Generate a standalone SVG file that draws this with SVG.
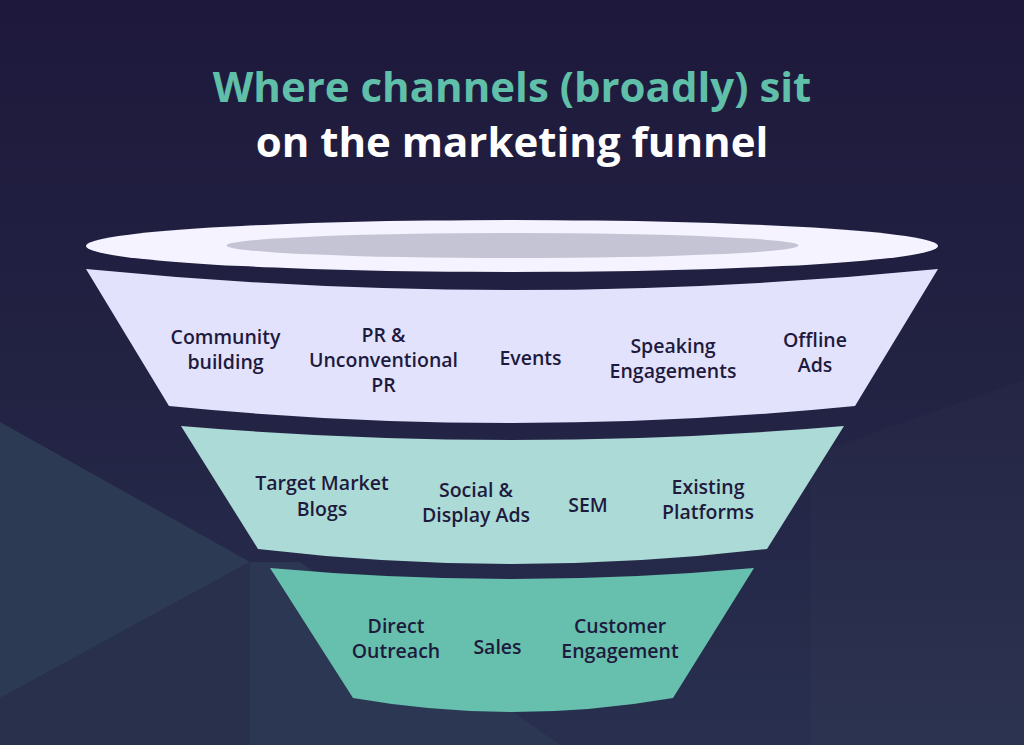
<svg xmlns="http://www.w3.org/2000/svg" width="1024" height="745" viewBox="0 0 1024 745">
  <defs>
    <linearGradient id="bg" x1="0" y1="0" x2="0" y2="1">
      <stop offset="0" stop-color="#1e193c"/>
      <stop offset="0.5" stop-color="#222243"/>
      <stop offset="1" stop-color="#29304f"/>
    </linearGradient>
    <style>
      .title { font-family: "Open Sans", "Noto Sans", sans-serif; font-weight: 700; font-size: 42px; text-anchor: middle; }
      .lbl { font-family: "Open Sans", "Noto Sans", sans-serif; font-weight: 600; font-size: 19.5px; fill: #1e1a3d; text-anchor: middle; }
    </style>
  </defs>

  <g id="background">
    <rect x="0" y="0" width="1024" height="745" fill="url(#bg)"/>
    <polygon points="0,422 250,562 0,698" fill="#2d3a54"/>
    <polygon points="0,698 250,562 250,745 0,745" fill="#28304c"/>
    <polygon points="250,562 300,562 560,745 250,745" fill="#2c3853"/>
    <polygon points="810,455 1024,380 1024,745 810,745" fill="#ffffff" opacity="0.015"/>
  </g>

  <g id="title">
    <text class="title" x="512" y="102" fill="#5fbfa8">Where channels (broadly) sit</text>
    <text class="title" x="512" y="157" fill="#ffffff">on the marketing funnel</text>
  </g>

  <g id="funnel-rim">
    <ellipse cx="512" cy="246" rx="426" ry="26" fill="#f4f3ff"/>
    <ellipse cx="512.5" cy="245.5" rx="286" ry="12.5" fill="#c5c4d4"/>
  </g>

  <g id="band-awareness">
    <path d="M86,269 Q512,311 938,269 L855,406 Q512,440 169,406 Z" fill="#e3e2fd"/>
    <text class="lbl" x="225.5" y="344">Community</text>
    <text class="lbl" x="225.5" y="369">building</text>
    <text class="lbl" x="383.5" y="342">PR &amp;</text>
    <text class="lbl" x="383.5" y="367">Unconventional</text>
    <text class="lbl" x="383.5" y="392">PR</text>
    <text class="lbl" x="530.5" y="365">Events</text>
    <text class="lbl" x="673" y="353">Speaking</text>
    <text class="lbl" x="673" y="378">Engagements</text>
    <text class="lbl" x="815" y="347">Offline</text>
    <text class="lbl" x="815" y="372">Ads</text>
  </g>

  <g id="band-consideration">
    <path d="M181,426 Q512,454 844,426 L767,549 Q512,579 258,549 Z" fill="#acdad6"/>
    <text class="lbl" x="322" y="490">Target Market</text>
    <text class="lbl" x="322" y="516">Blogs</text>
    <text class="lbl" x="476" y="497">Social &amp;</text>
    <text class="lbl" x="476" y="522">Display Ads</text>
    <text class="lbl" x="588" y="512">SEM</text>
    <text class="lbl" x="708" y="494">Existing</text>
    <text class="lbl" x="708" y="519">Platforms</text>
  </g>

  <g id="band-conversion">
    <path d="M270,568 Q512,590 754,568 L673,698 Q512,726 353,698 Z" fill="#66c0ad"/>
    <text class="lbl" x="396" y="633">Direct</text>
    <text class="lbl" x="396" y="658">Outreach</text>
    <text class="lbl" x="497.5" y="654">Sales</text>
    <text class="lbl" x="620" y="633">Customer</text>
    <text class="lbl" x="620" y="658">Engagement</text>
  </g>

  <g id="connectors"></g>
</svg>
